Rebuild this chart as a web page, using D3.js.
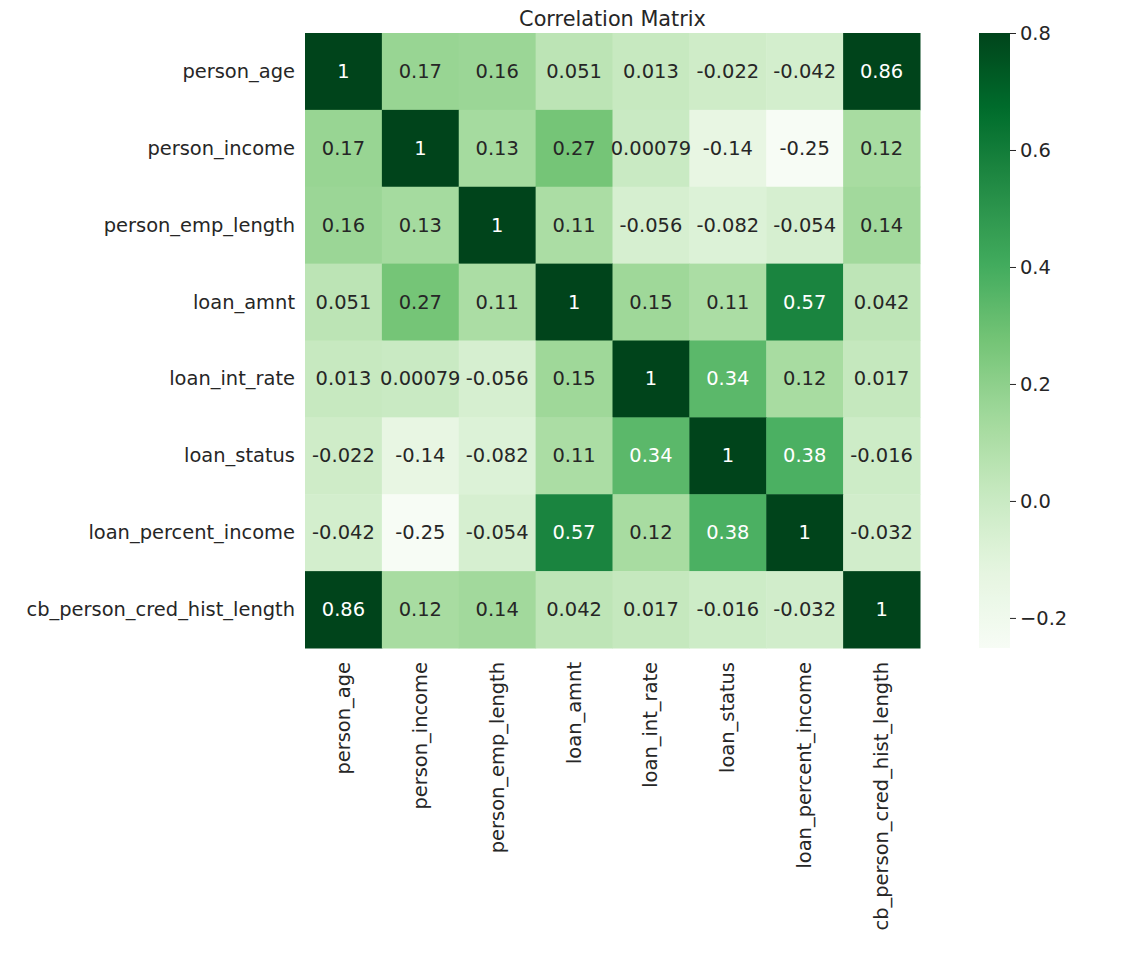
<!DOCTYPE html>
<html>
<head>
<meta charset="utf-8">
<script src="https://cdn.jsdelivr.net/npm/d3@7"></script>
<style>
  html, body { margin: 0; padding: 0; background: #ffffff; }
  svg { display: block; }
  text { font-family: "DejaVu Sans", sans-serif; }
</style>
</head>
<body>
<svg id="chart" width="1144" height="972"></svg>
<script>
const variables = ["person_age", "person_income", "person_emp_length", "loan_amnt",
  "loan_int_rate", "loan_status", "loan_percent_income", "cb_person_cred_hist_length"];

const corrRows = [
  [1, 0.17, 0.16, 0.051, 0.013, -0.022, -0.042, 0.86],
  [0.17, 1, 0.13, 0.27, 0.00079, -0.14, -0.25, 0.12],
  [0.16, 0.13, 1, 0.11, -0.056, -0.082, -0.054, 0.14],
  [0.051, 0.27, 0.11, 1, 0.15, 0.11, 0.57, 0.042],
  [0.013, 0.00079, -0.056, 0.15, 1, 0.34, 0.12, 0.017],
  [-0.022, -0.14, -0.082, 0.11, 0.34, 1, 0.38, -0.016],
  [-0.042, -0.25, -0.054, 0.57, 0.12, 0.38, 1, -0.032],
  [0.86, 0.12, 0.14, 0.042, 0.017, -0.016, -0.032, 1]
];

const colorbarTicks = [-0.2, 0.0, 0.2, 0.4, 0.6, 0.8];
const titleText = "Correlation Matrix";
const vmin = -0.2514, vmax = 0.8;

const greens = ["#f7fcf5", "#e5f5e0", "#c7e9c0", "#a1d99b", "#74c476", "#41ab5d", "#238b45", "#006d2c", "#00441b"];

const svg = d3.select("#chart");
const FS = 19.44;
const titleFS = 20.8;
const textDark = "#262626";

const plotLeft = 305, plotTop = 33, plotSize = 615;
const x = d3.scaleBand().domain(variables).range([plotLeft, plotLeft + plotSize]);
const y = d3.scaleBand().domain(variables).range([plotTop, plotTop + plotSize]);

const color = d3.scaleSequential(d3.piecewise(d3.interpolateRgb, greens))
  .domain([vmin, vmax]).clamp(true);

function lum(c) {
  const rgb = d3.rgb(c);
  const f = v => { v /= 255; return v <= 0.03928 ? v / 12.92 : Math.pow((v + 0.055) / 1.055, 2.4); };
  return 0.2126 * f(rgb.r) + 0.7152 * f(rgb.g) + 0.0722 * f(rgb.b);
}

const cells = [];
corrRows.forEach((row, i) => row.forEach((v, j) => cells.push({ r: variables[i], c: variables[j], v })));

const fmt = d3.format(".2~g");
function label(v) {
  return fmt(v).replace("−", "-");
}

const g = svg.append("g");
g.selectAll("rect.cell").data(cells).join("rect")
  .attr("class", "cell")
  .attr("x", d => x(d.c))
  .attr("y", d => y(d.r))
  .attr("width", x.bandwidth() + 0.5)
  .attr("height", y.bandwidth() + 0.5)
  .attr("fill", d => color(d.v));

g.selectAll("text.annot").data(cells).join("text")
  .attr("class", "annot")
  .attr("x", d => x(d.c) + x.bandwidth() / 2)
  .attr("y", d => y(d.r) + y.bandwidth() / 2)
  .attr("text-anchor", "middle")
  .attr("dominant-baseline", "central")
  .attr("font-size", FS)
  .attr("fill", d => lum(color(d.v)) > 0.408 ? textDark : "#ffffff")
  .text(d => label(d.v));

// Y axis labels
svg.append("g").selectAll("text").data(variables).join("text")
  .attr("x", plotLeft - 10)
  .attr("y", d => y(d) + y.bandwidth() / 2)
  .attr("text-anchor", "end")
  .attr("dominant-baseline", "central")
  .attr("font-size", FS)
  .attr("fill", textDark)
  .text(d => d);

// X axis labels (rotated)
svg.append("g").selectAll("text").data(variables).join("text")
  .attr("transform", d => `translate(${x(d) + x.bandwidth() / 2},${plotTop + plotSize + 14}) rotate(-90)`)
  .attr("text-anchor", "end")
  .attr("dominant-baseline", "central")
  .attr("font-size", FS)
  .attr("fill", textDark)
  .text(d => d);

// Title
svg.append("text")
  .attr("x", plotLeft + plotSize / 2)
  .attr("y", 26)
  .attr("text-anchor", "middle")
  .attr("font-size", titleFS)
  .attr("fill", textDark)
  .text(titleText);

// Colorbar
const cbX = 979, cbW = 31;
const cbScale = d3.scaleLinear().domain([vmin, vmax]).range([plotTop + plotSize, plotTop]);
const defs = svg.append("defs");
const grad = defs.append("linearGradient").attr("id", "cbgrad")
  .attr("x1", "0").attr("y1", "1").attr("x2", "0").attr("y2", "0");
d3.range(0, 1.0001, 0.02).forEach(t => {
  grad.append("stop").attr("offset", t).attr("stop-color", color(vmin + t * (vmax - vmin)));
});
svg.append("rect")
  .attr("x", cbX).attr("y", plotTop).attr("width", cbW).attr("height", plotSize)
  .attr("fill", "url(#cbgrad)");

const cbAxis = d3.axisRight(cbScale).tickValues(colorbarTicks)
  .tickSize(6).tickPadding(4)
  .tickFormat(v => d3.format(".1f")(v).replace("-", "−"));
const cbg = svg.append("g").attr("transform", `translate(${cbX + cbW},0)`).call(cbAxis);
cbg.select(".domain").remove();
cbg.selectAll(".tick line").attr("stroke", textDark).attr("stroke-width", 1);
cbg.selectAll(".tick text").attr("font-size", FS).attr("fill", textDark)
  .attr("font-family", "DejaVu Sans, sans-serif");
</script>
</body>
</html>
